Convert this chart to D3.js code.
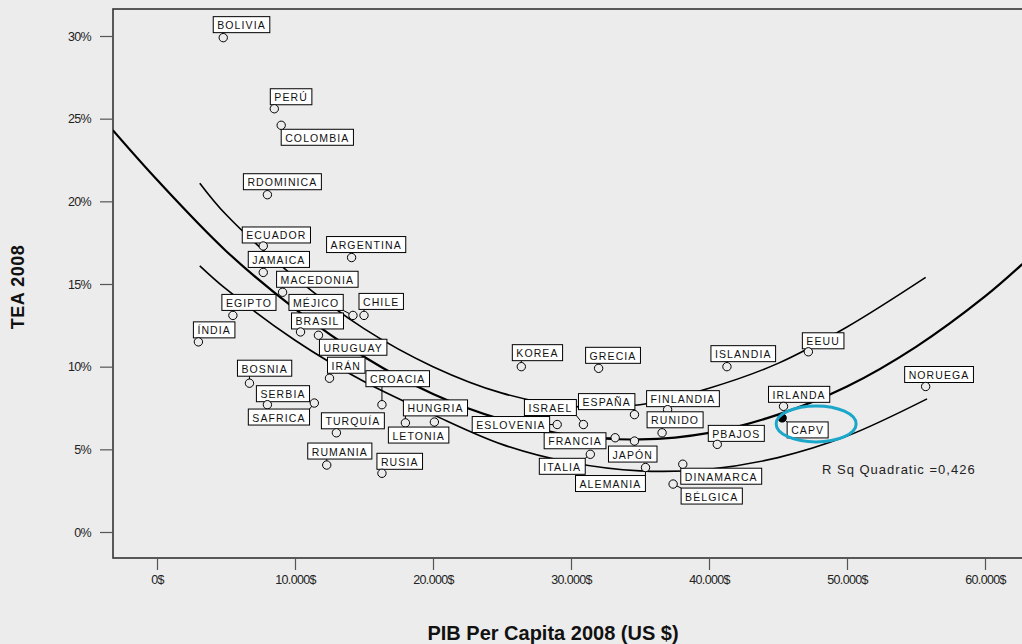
<!DOCTYPE html>
<html>
<head>
<meta charset="utf-8">
<script src="https://cdn.jsdelivr.net/npm/d3@7"></script>
<style>
  body { margin: 0; background: #ececec; }
  svg { display: block; }
</style>
</head>
<body>
<svg></svg>
<script>
// countries, GDP per capita (thousand $) and TEA (%)
let countries = ["BOLIVIA","PERÚ","COLOMBIA","RDOMINICA","ECUADOR","ARGENTINA","JAMAICA","MACEDONIA","EGIPTO","MÉJICO",
  "CHILE","BRASIL","ÍNDIA","URUGUAY","IRÁN","CROACIA","BOSNIA","SERBIA","SAFRICA","TURQUÍA",
  "HUNGRIA","LETONIA","RUMANIA","RUSIA","KOREA","GRECIA","ISRAEL","ESPAÑA","ESLOVENIA","FRANCIA",
  "JAPÓN","ITALIA","ALEMANIA","FINLANDIA","RUNIDO","PBAJOS","DINAMARCA","BÉLGICA","ISLANDIA","EEUU",
  "IRLANDA","CAPV","NORUEGA"]
let pib = [4.8,8.5,9.0,8.0,7.7,14.1,7.7,9.1,5.5,14.2,
  15.0,10.4,3.0,11.7,12.5,16.3,6.7,8.0,11.4,13.0,
  18.0,20.1,12.3,16.3,26.4,32.0,30.9,34.6,29.0,33.2,
  34.6,31.4,35.4,37.0,36.6,40.6,38.1,37.4,41.3,47.2,
  45.4,45.3,55.7]
let tea = [29.9,25.6,24.6,20.4,17.3,16.6,15.7,14.5,13.1,13.1,
  13.1,12.1,11.5,11.9,9.3,7.7,9.0,7.7,7.8,6.0,
  6.6,6.65,4.05,3.55,10.0,9.9,6.5,7.1,6.5,5.7,
  5.5,4.7,3.9,7.4,6.0,5.3,4.1,2.9,10.0,10.9,
  7.6,6.9,8.8]

// fitted quadratic and its two confidence lines
let fitX = [-3.2,0,5,10,15,20,25,30,35,40,45,50,55,60,62.7]
let fitY = [24.3,21.3,17.0,13.5,10.6,8.35,6.8,5.85,5.6,6.0,7.1,8.8,11.2,14.25,16.2]
let upX = [3.1,5,10,15,20,25,30,35,40,45,50,55.7]
let upY = [21.1,19.2,15.4,12.3,10.0,8.4,7.6,7.7,8.7,10.2,12.4,15.4]
let loX = [3.1,5,10,15,20,25,30,35,40,45,50,55.8]
let loY = [16.1,14.7,11.6,9.1,7.1,5.3,4.2,3.7,3.8,4.5,5.8,8.05]

let xTicks = [0,10,20,30,40,50,60]
let yTicks = [0,5,10,15,20,25,30]
let rsqText = "R Sq Quadratic =0,426"

// label box offsets from each marker (layout only)
let labelOffsets = [[-10,-21],[-4,-20],[0,4],[-24,-21],[-21,-19],[-25,-21],[-15,-21],[-6,-21],[-11,-21],[-64,-21],
  [-5,-22],[-9,-19],[-5,-20],[1,4],[-2,-21],[-16,-34],[-12,-23],[-11,-19],[-66,6],[-15,-20],
  [-2,-23],[-46,5],[-19,-22],[-5,-20],[-9,-22],[-13,-21],[-59,-25],[-56,-21],[-85,-8],[-71,-5],
  [-26,5],[-51,4],[-70,8],[-21,-19],[-15,-21],[-9,-19],[-2,4],[8,4],[-16,-21],[-6,-19],
  [-15,-20],[5,4],[-21,-20]]

let width = 1022
let height = 644
let plotLeft = 113, plotTop = 9, plotBottom = 558

let svg = d3.select("svg").attr("width", width).attr("height", height)

let xScale = d3.scaleLinear().domain([0, 60]).range([157, 985])
let yScale = d3.scaleLinear().domain([0, 30]).range([532, 36])

svg.append("defs").append("clipPath").attr("id", "plot")
  .append("rect").attr("x", plotLeft).attr("y", plotTop).attr("width", width - plotLeft).attr("height", plotBottom - plotTop)

// frame
svg.append("rect").attr("x", plotLeft).attr("y", plotTop).attr("width", width - plotLeft + 10).attr("height", plotBottom - plotTop)
  .attr("fill", "#ececec").attr("stroke", "#333").attr("stroke-width", 1.6)

// axes
let xAxis = d3.axisBottom(xScale).tickValues(xTicks).tickSize(12).tickPadding(5)
  .tickFormat(d => d == 0 ? "0$" : d + ".000$")
let gx = svg.append("g").attr("transform", "translate(0," + plotBottom + ")").call(xAxis)
let yAxis = d3.axisLeft(yScale).tickValues(yTicks).tickSize(13).tickPadding(9)
  .tickFormat(d => d + "%")
let gy = svg.append("g").attr("transform", "translate(" + plotLeft + ",0)").call(yAxis)
for (let g of [gx, gy]) {
  g.select(".domain").remove()
  g.selectAll("line").attr("stroke", "#555").attr("stroke-width", 1.2)
  g.selectAll("text").attr("font-family", "Liberation Sans, Arial, sans-serif").attr("font-size", 12.5)
    .attr("letter-spacing", "-0.7px").attr("fill", "#222")
}

svg.append("text").attr("x", 553).attr("y", 640).attr("text-anchor", "middle")
  .attr("font-family", "Liberation Sans Narrow, Arial Narrow, sans-serif").attr("font-weight", "bold")
  .attr("font-size", 20).attr("fill", "#111").text("PIB Per Capita 2008 (US $)")
svg.append("text").attr("transform", "translate(24,287) rotate(-90)").attr("text-anchor", "middle")
  .attr("font-family", "Liberation Sans, Arial, sans-serif").attr("font-weight", "bold")
  .attr("font-size", 18).attr("letter-spacing", "0.5px").attr("fill", "#111").text("TEA 2008")

// curves
let line = d3.line().x(d => xScale(d[0])).y(d => yScale(d[1])).curve(d3.curveCatmullRom)
let curves = svg.append("g").attr("clip-path", "url(#plot)")
curves.append("path").datum(d3.zip(fitX, fitY)).attr("d", line)
  .attr("fill", "none").attr("stroke", "#000").attr("stroke-width", 2.2)
curves.append("path").datum(d3.zip(upX, upY)).attr("d", line)
  .attr("fill", "none").attr("stroke", "#000").attr("stroke-width", 1.6)
curves.append("path").datum(d3.zip(loX, loY)).attr("d", line)
  .attr("fill", "none").attr("stroke", "#000").attr("stroke-width", 1.6)

// points and labels
let data = countries.map((c, i) => ({name: c, x: pib[i], y: tea[i], off: labelOffsets[i]}))
let pts = svg.append("g")
let labels = pts.selectAll("g.lab").data(data).enter().append("g").attr("class", "lab")
labels.each(function (d) {
  let g = d3.select(this)
  let px = xScale(d.x), py = yScale(d.y)
  let bx = px + d.off[0], by = py + d.off[1]
  let t = g.append("text").attr("x", bx + 4).attr("y", by + 12.5)
    .attr("font-family", "Liberation Sans, Arial, sans-serif").attr("font-size", 10.5)
    .attr("letter-spacing", "1.1px").attr("fill", "#111").text(d.name)
  let w = t.node().getComputedTextLength() + 8
  let h = 16
  // leader line to closest point of the box
  let cx = Math.max(bx, Math.min(px, bx + w)), cy = Math.max(by, Math.min(py, by + h))
  g.insert("line", "text").attr("x1", px).attr("y1", py).attr("x2", cx).attr("y2", cy)
    .attr("stroke", "#000").attr("stroke-width", 1)
  g.insert("rect", "text").attr("x", bx).attr("y", by).attr("width", w).attr("height", h)
    .attr("fill", "#fff").attr("stroke", "#000").attr("stroke-width", 1)
  g.append("path").attr("transform", "translate(" + px + "," + py + ")")
    .attr("d", d3.symbol(d3.symbolCircle).size(55)())
    .attr("fill", d.name == "CAPV" ? "#000" : "#ececec").attr("stroke", "#000").attr("stroke-width", 1)
})

// highlight of CAPV
let capv = data.find(d => d.name == "CAPV")
svg.append("ellipse").attr("cx", xScale(capv.x) + 34).attr("cy", yScale(capv.y) + 6)
  .attr("rx", 40).attr("ry", 18).attr("fill", "none").attr("stroke", "#1aa7c9").attr("stroke-width", 3)

svg.append("text").attr("x", 822).attr("y", 474)
  .attr("font-family", "Liberation Sans, Arial, sans-serif").attr("font-size", 13)
  .attr("letter-spacing", "1px").attr("fill", "#222").text(rsqText)
</script>
</body>
</html>
